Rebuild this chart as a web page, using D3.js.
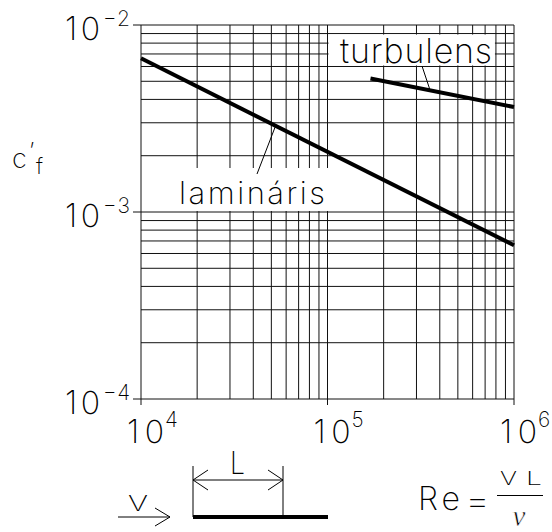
<!DOCTYPE html>
<html>
<head>
<meta charset="utf-8">
<script src="https://cdn.jsdelivr.net/npm/d3@7"></script>
<style>
  html, body { margin: 0; padding: 0; background: #fff; }
  svg { display: block; }
  text { font-family: Inter, "DejaVu Sans", sans-serif; font-weight: 200; fill: #000; }
</style>
</head>
<body>
<svg id="chart" width="552" height="532"></svg>
<script>
// Reynolds number range and local skin-friction coefficient curves
const reLaminar = [1e4, 1e6];
const cfLaminar = [0.00664, 0.000664];      // 0.664 / sqrt(Re)
const reTurbulent = [1.7e5, 1e6];
const cfTurbulent = [0.00518, 0.00364];     // 0.0576 * Re^-0.2

const xDecades = [1e4, 1e5, 1e6];
const xExponents = ["4", "5", "6"];
const yDecades = [1e-4, 1e-3, 1e-2];
const yExponents = ["\u22124", "\u22123", "\u22122"];
const mantissas = [1, 2, 3, 4, 5, 6, 7, 8, 9];

const svg = d3.select("#chart");

const x = d3.scaleLog().domain([1e4, 1e6]).range([141, 514]);
const y = d3.scaleLog().domain([1e-4, 1e-2]).range([399, 25]);

// grid values: every mantissa inside each decade
const xGrid = [];
for (const d of xDecades.slice(0, -1)) for (const m of mantissas) xGrid.push(d * m);
xGrid.push(1e6);
const yGrid = [];
for (const d of yDecades.slice(0, -1)) for (const m of mantissas) yGrid.push(d * m);
yGrid.push(1e-2);

const isDecade = v => Math.abs(Math.log10(v) - Math.round(Math.log10(v))) < 1e-9;

const grid = svg.append("g").attr("stroke", "#111").attr("stroke-width", 1);
grid.selectAll("line.v").data(xGrid).join("line")
  .attr("class", "v")
  .attr("x1", d => x(d)).attr("x2", d => x(d))
  .attr("y1", y(1e-2))
  .attr("y2", d => isDecade(d) ? y(1e-4) + 6 : y(1e-4));
grid.selectAll("line.h").data(yGrid).join("line")
  .attr("class", "h")
  .attr("y1", d => y(d)).attr("y2", d => y(d))
  .attr("x1", d => isDecade(d) ? x(1e4) - 8 : x(1e4))
  .attr("x2", x(1e6));

// white boxes behind the curve names
svg.append("rect").attr("fill", "#fff")
  .attr("x", x(1e5) + 1).attr("width", x(8e5) - x(1e5) - 2)
  .attr("y", y(9e-3) + 1).attr("height", y(6e-3) - y(9e-3) - 2);
svg.append("rect").attr("fill", "#fff")
  .attr("x", 172).attr("width", x(1e5) + 2 - 172)
  .attr("y", 168).attr("height", y(1e-3) - 1 - 168);

// curves
const line = d3.line().x(d => x(d[0])).y(d => y(d[1]));
svg.append("path")
  .datum(d3.zip(reLaminar, cfLaminar))
  .attr("d", line).attr("fill", "none").attr("stroke", "#000").attr("stroke-width", 4);
svg.append("path")
  .datum(d3.zip(reTurbulent, cfTurbulent))
  .attr("d", line).attr("fill", "none").attr("stroke", "#000").attr("stroke-width", 4);

// point on a straight log-log segment, used for the leader ends
const onCurve = (res, cfs, re) => {
  const t = (Math.log10(re) - Math.log10(res[0])) / (Math.log10(res[1]) - Math.log10(res[0]));
  return Math.pow(10, Math.log10(cfs[0]) + t * (Math.log10(cfs[1]) - Math.log10(cfs[0])));
};

// leaders
const lamRe = 5.27e4;
svg.append("line").attr("stroke", "#000").attr("stroke-width", 1)
  .attr("x1", 257).attr("y1", 174)
  .attr("x2", x(lamRe)).attr("y2", y(onCurve(reLaminar, cfLaminar, lamRe)));
const turbRe = 3.55e5;
svg.append("line").attr("stroke", "#000").attr("stroke-width", 1)
  .attr("x1", 422).attr("y1", 66)
  .attr("x2", x(turbRe)).attr("y2", y(onCurve(reTurbulent, cfTurbulent, turbRe)));

// curve names
svg.append("text").attr("x", 179).attr("y", 204)
  .style("font-size", "31px").attr("textLength", 146).attr("lengthAdjust", "spacing")
  .text("lamináris");
svg.append("text").attr("x", 340).attr("y", 63)
  .style("font-size", "34px").attr("textLength", 152).attr("lengthAdjust", "spacing")
  .text("turbulens");

// y tick labels: mantissa and superscript exponent
yDecades.forEach((v, i) => {
  svg.append("text").attr("x", 65).attr("y", y(v) + 15)
    .style("font-size", "32px").attr("textLength", 35).attr("lengthAdjust", "spacing")
    .text("10");
  svg.append("text").attr("x", 103).attr("y", y(v) + 1)
    .style("font-size", "21px").attr("textLength", 27).attr("lengthAdjust", "spacing")
    .text(yExponents[i]);
});

// x tick labels
xDecades.forEach((v, i) => {
  svg.append("text").attr("x", x(v) - 14).attr("y", 443)
    .style("font-size", "32px").attr("textLength", 37).attr("lengthAdjust", "spacing")
    .text("10");
  svg.append("text").attr("x", x(v) + 24).attr("y", 427)
    .style("font-size", "21px").text(xExponents[i]);
});

// axis title c'_f
svg.append("text").attr("x", 12).attr("y", 168).style("font-size", "27px").text("c");
svg.append("text").attr("x", 29).attr("y", 160).style("font-size", "24px").text("\u2019");
svg.append("text").attr("x", 36).attr("y", 174).style("font-size", "22px").text("f");

// flat plate sketch
const sk = svg.append("g").attr("stroke", "#000").attr("fill", "none").attr("stroke-width", 1);
sk.append("line").attr("x1", 118).attr("y1", 517).attr("x2", 170).attr("y2", 517);
sk.append("polyline").attr("points", "155,508 170,517 155,526");
sk.append("line").attr("x1", 193).attr("y1", 517).attr("x2", 328).attr("y2", 517).attr("stroke-width", 4);
sk.append("line").attr("x1", 193).attr("y1", 466).attr("x2", 193).attr("y2", 517);
sk.append("line").attr("x1", 283).attr("y1", 466).attr("x2", 283).attr("y2", 517);
sk.append("line").attr("x1", 193).attr("y1", 480).attr("x2", 283).attr("y2", 480);
sk.append("polyline").attr("points", "208,470 193,480 208,490");
sk.append("polyline").attr("points", "268,470 283,480 268,490");
svg.append("text").attr("x", 128).attr("y", 511).style("font-size", "22px")
  .attr("textLength", 20).attr("lengthAdjust", "spacingAndGlyphs").text("V");
svg.append("text").attr("x", 230).attr("y", 474).style("font-size", "31px")
  .attr("textLength", 15).attr("lengthAdjust", "spacingAndGlyphs").text("L");

// Reynolds number definition
svg.append("text").attr("x", 418).attr("y", 510).style("font-size", "32px")
  .attr("textLength", 42).attr("lengthAdjust", "spacing").text("Re");
svg.append("text").attr("x", 465).attr("y", 512).style("font-size", "32px")
  .attr("textLength", 25).attr("lengthAdjust", "spacingAndGlyphs").text("=");
svg.append("line").attr("stroke", "#000").attr("stroke-width", 1)
  .attr("x1", 497).attr("x2", 543).attr("y1", 495.5).attr("y2", 495.5);
svg.append("text").attr("x", 500).attr("y", 485).style("font-size", "18px")
  .attr("textLength", 17).attr("lengthAdjust", "spacingAndGlyphs").text("V");
svg.append("text").attr("x", 526).attr("y", 485).style("font-size", "18px")
  .attr("textLength", 16).attr("lengthAdjust", "spacingAndGlyphs").text("L");
// italic nu, slightly thinned by a white outline drawn over its fill
svg.append("text").attr("x", 519).attr("y", 525.5).attr("text-anchor", "middle")
  .style("font-family", "'Liberation Serif', serif").style("font-style", "italic")
  .style("font-weight", "normal").style("font-size", "29px")
  .attr("stroke", "#fff").attr("stroke-width", 0.6).attr("stroke-linejoin", "round")
  .text("\u03bd");
</script>
</body>
</html>
